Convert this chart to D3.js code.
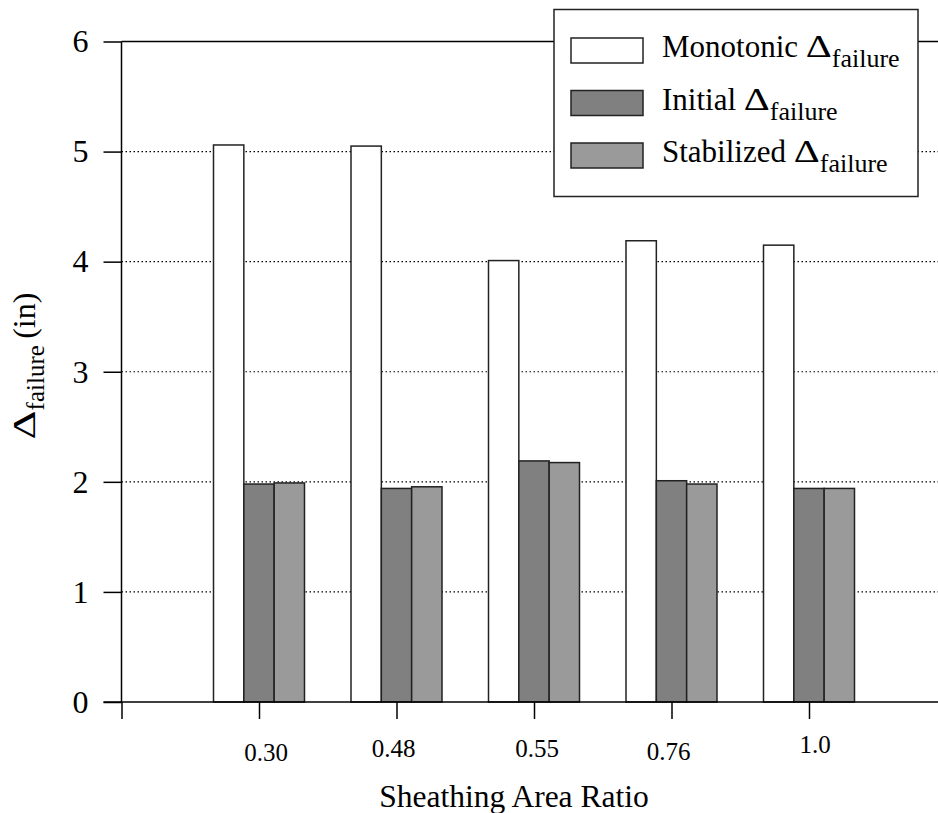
<!DOCTYPE html>
<html>
<head>
<meta charset="utf-8">
<script src="https://cdn.jsdelivr.net/npm/d3@7"></script>
<style>
  body { margin: 0; background: #fff; }
  svg text { font-family: "Liberation Serif", "Times New Roman", serif; fill: #000; }
</style>
</head>
<body>
<div id="chart"></div>
<script>
// data
const categories = ["0.30", "0.48", "0.55", "0.76", "1.0"];
const monotonic = [5.06, 5.05, 4.01, 4.19, 4.15];
const initial = [1.98, 1.94, 2.19, 2.01, 1.94];
const stabilized = [1.99, 1.955, 2.175, 1.98, 1.94];
const seriesNames = ["Monotonic", "Initial", "Stabilized"];
const seriesFill = ["#ffffff", "#808080", "#9a9a9a"];
const yTicks = [0, 1, 2, 3, 4, 5, 6];

// small nudges of the x tick labels, as in the original
const labelNudge = [[7, 4], [-3, 0], [3, 0], [-3, 3], [6, -4]];

const width = 938, height = 813;
const svg = d3.select("#chart").append("svg")
  .attr("width", width)
  .attr("height", height);

// scales
const x = d3.scaleLinear().domain([0, 6]).range([121.5, 946.5]);
const y = d3.scaleLinear().domain([0, 6]).range([702, 41.5]);
const xInner = d3.scaleBand().domain(seriesNames).range([-45.5, 45.5]);

const rows = categories.map((c, i) => ({
  cat: c, idx: i + 1,
  values: [monotonic[i], initial[i], stabilized[i]]
}));

// dotted grid lines
svg.append("g")
  .selectAll("line")
  .data(yTicks.filter(t => t > 0 && t < 6))
  .join("line")
  .attr("x1", x(0)).attr("x2", width)
  .attr("y1", d => y(d)).attr("y2", d => y(d))
  .attr("stroke", "#000")
  .attr("stroke-width", 1.2)
  .attr("stroke-dasharray", "1.5,2.5");

// top frame line
svg.append("line")
  .attr("x1", x(0)).attr("x2", width)
  .attr("y1", y(6)).attr("y2", y(6))
  .attr("stroke", "#000").attr("stroke-width", 1.5);

// bars
const groups = svg.append("g").selectAll("g")
  .data(rows)
  .join("g")
  .attr("transform", d => `translate(${x(d.idx)},0)`);

groups.selectAll("rect")
  .data(d => d.values.map((v, k) => ({ name: seriesNames[k], k: k, v: v })))
  .join("rect")
  .attr("x", d => xInner(d.name))
  .attr("width", xInner.bandwidth())
  .attr("y", d => y(d.v))
  .attr("height", d => y(0) - y(d.v))
  .attr("fill", d => seriesFill[d.k])
  .attr("stroke", "#222")
  .attr("stroke-width", 1.5);

// y axis
const yAxis = svg.append("g")
  .attr("transform", `translate(${x(0)},0)`)
  .call(d3.axisLeft(y).tickValues(yTicks).tickSize(18).tickPadding(15).tickFormat(d3.format("d")));
yAxis.select(".domain").attr("stroke-width", 1.5).attr("d", `M0,${y(6)}V${y(0)}`);
yAxis.selectAll(".tick line").attr("stroke-width", 1.5);
yAxis.selectAll(".tick text").attr("font-size", 32);

// x axis
const xAxis = svg.append("g")
  .attr("transform", `translate(0,${y(0)})`)
  .call(d3.axisBottom(x).tickValues([0, 1, 2, 3, 4, 5]).tickSize(17).tickFormat(""));
xAxis.select(".domain").attr("d", `M${x(0) - 18},0H${width}`).attr("stroke-width", 1.5);
xAxis.selectAll(".tick line").attr("stroke-width", 1.5);

svg.append("g")
  .selectAll("text")
  .data(rows)
  .join("text")
  .attr("x", (d, i) => x(d.idx) + labelNudge[i][0])
  .attr("y", (d, i) => 757 + labelNudge[i][1])
  .attr("text-anchor", "middle")
  .attr("font-size", 25)
  .text(d => d.cat);

// axis titles
svg.append("text")
  .attr("x", 514).attr("y", 807)
  .attr("text-anchor", "middle")
  .attr("font-size", 31.5)
  .text("Sheathing Area Ratio");

const yTitle = svg.append("text")
  .attr("transform", "translate(35,366) rotate(-90)")
  .attr("text-anchor", "middle")
  .attr("font-size", 32);
yTitle.append("tspan")
  .attr("textLength", 29).attr("lengthAdjust", "spacingAndGlyphs")
  .text("\u0394");
yTitle.append("tspan").attr("font-size", 25).attr("dy", 9).text("failure");
yTitle.append("tspan").attr("dy", -9).text("\u2009(in)");

// legend
const legend = svg.append("g");
legend.append("rect")
  .attr("x", 554).attr("y", 9.5)
  .attr("width", 364).attr("height", 187)
  .attr("fill", "#fff")
  .attr("stroke", "#222")
  .attr("stroke-width", 1.5);

const items = legend.selectAll("g.item")
  .data(seriesNames)
  .join("g")
  .attr("class", "item")
  .attr("transform", (d, i) => `translate(571,${38 + i * 52.5})`);

items.append("rect")
  .attr("width", 72).attr("height", 25)
  .attr("fill", (d, i) => seriesFill[i])
  .attr("stroke", "#222")
  .attr("stroke-width", 1.5);

const lt = items.append("text")
  .attr("x", 91).attr("y", 19)
  .attr("font-size", 31);
lt.append("tspan").text(d => d + " ");
lt.append("tspan")
  .attr("textLength", 26).attr("lengthAdjust", "spacingAndGlyphs")
  .text("\u0394");
lt.append("tspan").attr("font-size", 26).attr("dy", 10).text("failure");
</script>
</body>
</html>
